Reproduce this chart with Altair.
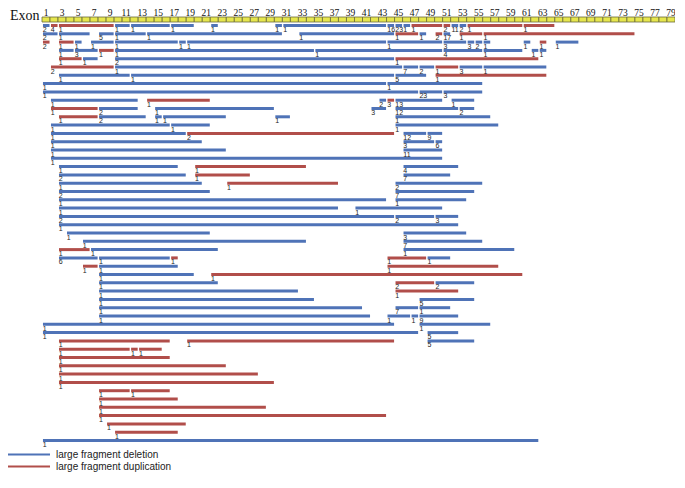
import altair as alt
import pandas as pd

# ---------------- data ----------------
exon_numbers = list(range(1, 80))
exon_label_numbers = list(range(1, 80, 2))

# one inner list per row (top to bottom); start / end exon of each fragment
seg_start = [
    [1, 2, 3, 10, 12, 17, 22, 30, 31, 44, 45, 46, 47, 51, 52, 53, 54, 61],
    [1, 3, 8, 10, 14, 33, 45, 48, 50, 51, 53, 56],
    [1, 3, 5, 7, 10, 18, 19, 44, 51, 54, 55, 56, 61, 63, 65],
    [3, 5, 8, 10, 35, 51, 56, 62, 63],
    [3, 6, 10, 45],
    [2, 10, 46, 48, 50, 53, 56],
    [3, 12, 45, 50],
    [1, 44],
    [1, 48, 51],
    [2, 14, 43, 44, 45, 52],
    [2, 8, 15, 42, 45, 53],
    [3, 8, 15, 16, 30, 45],
    [2, 17, 45],
    [2, 19, 46, 49],
    [2, 46, 50],
    [2, 46],
    [2],
    [3, 20, 46],
    [3, 20, 46],
    [3, 24, 45],
    [3, 45],
    [3, 45],
    [3, 40],
    [3, 45, 50],
    [3],
    [4, 46],
    [6, 46],
    [3, 7, 46],
    [3, 8, 17, 44, 49],
    [6, 8, 44],
    [8, 22],
    [8, 45, 50],
    [8, 45],
    [8, 48],
    [8, 45, 48],
    [8, 44, 47, 48],
    [1, 48],
    [1, 49],
    [3, 19, 49],
    [3, 12, 13],
    [3],
    [3],
    [3],
    [3],
    [8, 12],
    [8],
    [8],
    [8],
    [9],
    [10],
    [1],
]
seg_end = [
    [1, 2, 9, 11, 16, 19, 22, 30, 43, 44, 45, 46, 50, 51, 52, 53, 60, 64],
    [2, 6, 9, 13, 30, 44, 47, 48, 50, 51, 55, 74],
    [1, 4, 5, 9, 17, 18, 43, 50, 53, 54, 55, 56, 61, 63, 67],
    [4, 7, 9, 34, 50, 55, 60, 62, 63],
    [5, 7, 44, 62],
    [9, 45, 47, 49, 52, 55, 63],
    [11, 44, 48, 63],
    [43, 55],
    [47, 50, 55],
    [12, 21, 43, 44, 50, 54],
    [7, 12, 29, 43, 52, 54],
    [7, 13, 15, 23, 31, 56],
    [16, 21, 57],
    [18, 44, 48, 50],
    [20, 49, 50],
    [23, 50],
    [50],
    [17, 33, 52],
    [18, 26, 51],
    [20, 37, 55],
    [21, 54],
    [43, 53],
    [37, 50],
    [44, 49, 52],
    [52],
    [21, 53],
    [33, 55],
    [6, 22, 59],
    [7, 16, 17, 48, 51],
    [7, 17, 57],
    [19, 60],
    [22, 49, 54],
    [32, 52],
    [34, 54],
    [40, 47, 51],
    [41, 46, 47, 52],
    [44, 56],
    [47, 52],
    [16, 44, 54],
    [11, 12, 15],
    [16],
    [23],
    [27],
    [29],
    [11, 16],
    [17],
    [28],
    [43],
    [18],
    [17],
    [62],
]
# D = large fragment deletion, U = large fragment duplication
seg_kind = [
    "D U U D D D D D D D D D U U D D U U",
    "D D D D D D U D U D U U",
    "U U D D D D D D D D D D D U D",
    "D D U D D D D D D",
    "U D D U",
    "U D D D U D D",
    "D D D U",
    "D D",
    "D D D",
    "D U D U D D",
    "U D D D D D",
    "U D D D D D",
    "D D D",
    "D U D D",
    "D D D",
    "D D",
    "D",
    "D U D",
    "D U D",
    "D U D",
    "D D",
    "D D",
    "D D",
    "D D D",
    "D",
    "D D",
    "D D",
    "U D D",
    "D D U U D",
    "U D U",
    "D U",
    "D U D",
    "D U",
    "D D",
    "D D D",
    "D D D D",
    "D D",
    "D D",
    "U U D",
    "U U U",
    "U",
    "U",
    "U",
    "U",
    "U U",
    "U",
    "U",
    "U",
    "U",
    "U",
    "D",
]
seg_count = [
    [2, 4, 1, 1, 1, 1, 1, 1, 1, 16, 23, 1, 1, 2, 11, 2, 1, 1],
    [2, 1, 5, 1, 1, 1, 1, 1, 2, 17, 1, 1],
    [2, 1, 1, 1, 1, 1, 1, 1, 3, 3, 2, 1, 1, 1, 1],
    [1, 3, 1, 1, 1, 4, 1, 1, 1],
    [1, 1, 2, 1],
    [2, 1, 7, 2, 1, 3, 1],
    [1, 1, 5, 1],
    [1, 1],
    [1, 23, 3],
    [1, 1, 2, 3, 13, 1],
    [1, 2, 1, 3, 12, 2],
    [1, 2, 1, 1, 1, 1],
    [1, 1, 1],
    [1, 2, 12, 9],
    [1, 3, 6],
    [1, 11],
    [1],
    [1, 1, 4],
    [2, 1, 7],
    [1, 1, 2],
    [2, 7],
    [1, 1],
    [1, 1],
    [2, 2, 3],
    [1],
    [1, 3],
    [1, 7],
    [1, 1, 1],
    [6, 1, 1, 1, 1],
    [1, 1, 1],
    [1, 1],
    [1, 2, 2],
    [1, 1],
    [1, 5],
    [1, 7, 1],
    [1, 1, 1, 9],
    [1, 1],
    [1, 5],
    [1, 1, 5],
    [1, 1, 1],
    [1],
    [1],
    [1],
    [1],
    [1, 1],
    [1],
    [1],
    [1],
    [1],
    [1],
    [1],
]

legend_labels = ["large fragment deletion", "large fragment duplication"]
legend_colors = ["#4f73b7", "#b14e4a"]
kind_names = {"D": legend_labels[0], "U": legend_labels[1]}

# ---------------- build table ----------------
records = []
for r, (ss, ee, kk, cc) in enumerate(zip(seg_start, seg_end, seg_kind, seg_count)):
    kk = kk.split()
    if not (len(ss) == len(ee) == len(kk) == len(cc)):
        raise ValueError(f"row {r} length mismatch")
    for s, e, k, c in zip(ss, ee, kk, cc):
        records.append({"row": r, "start": s, "end": e,
                        "type": kind_names[k], "count": str(c)})
segments = pd.DataFrame(records)
exons = pd.DataFrame({"exon": exon_numbers})
exon_ticks = pd.DataFrame({"exon": exon_label_numbers, "lab": [str(n) for n in exon_label_numbers]})

# ---------------- layout constants ----------------
PAD_L = 34
W, H = 633, 466
ROW_PX = 8.3       # vertical distance between rows
TOP_PX = 17.5      # y of first row inside the plot area
y_dom = [-TOP_PX / ROW_PX, (H - TOP_PX) / ROW_PX]

xs = alt.Scale(domain=[0, 79], nice=False, zero=False)
ys = alt.Scale(domain=y_dom, reverse=True, nice=False, zero=False)

lines = alt.Chart(segments).transform_calculate(
    x0="datum.start - 0.88", x1="datum.end - 0.06"
).mark_rule(strokeWidth=3).encode(
    x=alt.X("x0:Q", scale=xs, axis=None),
    x2="x1:Q",
    y=alt.Y("row:Q", scale=ys, axis=None),
    color=alt.Color("type:N", scale=alt.Scale(domain=legend_labels, range=legend_colors), legend=None),
)

labels = alt.Chart(segments).transform_calculate(
    x0="datum.start - 0.9"
).mark_text(align="left", baseline="middle", dy=4.5, fontSize=7,
            font="Liberation Sans", color="#222222").encode(
    x=alt.X("x0:Q", scale=xs, axis=None),
    y=alt.Y("row:Q", scale=ys, axis=None),
    text="count:N",
)

boxes = alt.Chart(exons).transform_calculate(
    a="datum.exon - 1", b="datum.exon"
).mark_rect(fill="#e6e64e", stroke="#6b6b3a", strokeWidth=0.8).encode(
    x=alt.X("a:Q", scale=xs, axis=None),
    x2="b:Q",
    y=alt.value(9),
    y2=alt.value(14),
)

exon_nums = alt.Chart(exon_ticks).transform_calculate(
    c="datum.exon - 0.5"
).mark_text(baseline="middle", fontSize=9.5, font="Liberation Serif", color="#111111").encode(
    x=alt.X("c:Q", scale=xs, axis=None),
    y=alt.value(5.2),
    text="lab:N",
)

exon_title = alt.Chart(pd.DataFrame({"t": ["Exon"]})).mark_text(
    align="left", baseline="middle", fontSize=14, font="Liberation Serif", color="#111111"
).encode(x=alt.value(10 - 8 - PAD_L), y=alt.value(8), text="t:N")

layers = [boxes, exon_nums, exon_title, lines, labels]
for i, (lab, col) in enumerate(zip(legend_labels, legend_colors)):
    ly = 446.5 + 12 * i
    d = pd.DataFrame({"t": [lab]})
    layers.append(alt.Chart(d).mark_rule(strokeWidth=2, color=col).encode(
        x=alt.value(-PAD_L), x2=alt.value(50 - 8 - PAD_L), y=alt.value(ly)))
    layers.append(alt.Chart(d).mark_text(
        align="left", baseline="middle", fontSize=10, font="Liberation Sans", color="#222222"
    ).encode(x=alt.value(56 - 8 - PAD_L), y=alt.value(ly + 0.5), text="t:N"))

chart = alt.layer(*layers).properties(
    width=W, height=H,
    autosize=alt.AutoSizeParams(type="none"),
    padding={"left": PAD_L, "top": 0, "right": 0, "bottom": 0},
).configure_view(stroke=None)

chart.save("out.html", embed_options={"renderer": "svg", "actions": False})
